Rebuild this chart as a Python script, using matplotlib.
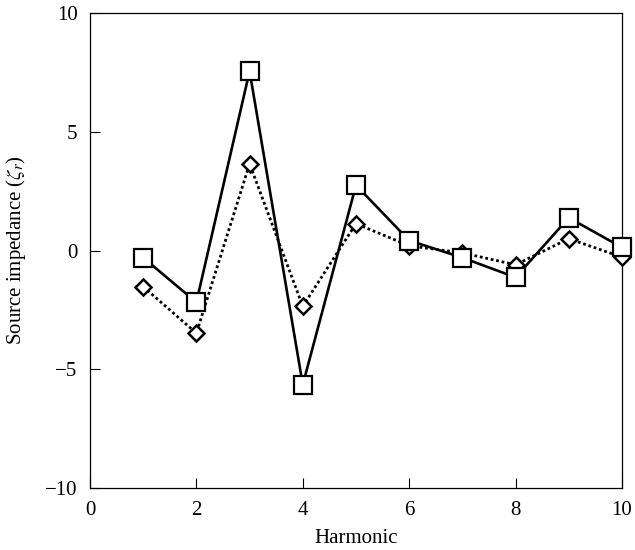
import matplotlib.pyplot as plt

plt.rcParams['font.family'] = 'Liberation Serif'
plt.rcParams['mathtext.fontset'] = 'stix'

harmonic = [1, 2, 3, 4, 5, 6, 7, 8, 9, 10]
squares = [-0.3, -2.18, 7.55, -5.65, 2.75, 0.42, -0.3, -1.13, 1.38, 0.13]
diamonds = [-1.52, -3.48, 3.65, -2.35, 1.13, 0.2, -0.1, -0.6, 0.5, -0.28]

fig = plt.figure(figsize=(6.35, 5.5), dpi=100)
ax = fig.add_axes([0.1417, 0.1127, 0.8378, 0.8636])

ax.plot(harmonic, diamonds, color='black', linestyle=(0, (1, 1)), linewidth=2,
        marker='D', markersize=8, markerfacecolor='white',
        markeredgecolor='black', markeredgewidth=1.8, zorder=3, clip_on=False)
ax.plot(harmonic, squares, color='black', linestyle='-', linewidth=1.9,
        marker='s', markersize=13, markerfacecolor='white',
        markeredgecolor='black', markeredgewidth=1.6, zorder=4, clip_on=False)

ax.set_xlim(0, 10)
ax.set_ylim(-10, 10)
ax.set_xticks([0, 2, 4, 6, 8, 10])
ax.set_yticks([-10, -5, 0, 5, 10])
ax.set_yticklabels(['\u221210', '\u22125', '0', '5', '10'])
ax.tick_params(direction='in', length=7, width=0.8, labelsize=15)
ax.tick_params(axis='y', pad=9)
ax.tick_params(axis='x', pad=9)
for sp in ax.spines.values():
    sp.set_linewidth(0.9)

ax.set_xlabel('Harmonic', fontsize=15, labelpad=7)
ax.set_ylabel(r'Source impedance ($\zeta_r$)', fontsize=15, labelpad=12)

fig.savefig('out.png', dpi=100)
